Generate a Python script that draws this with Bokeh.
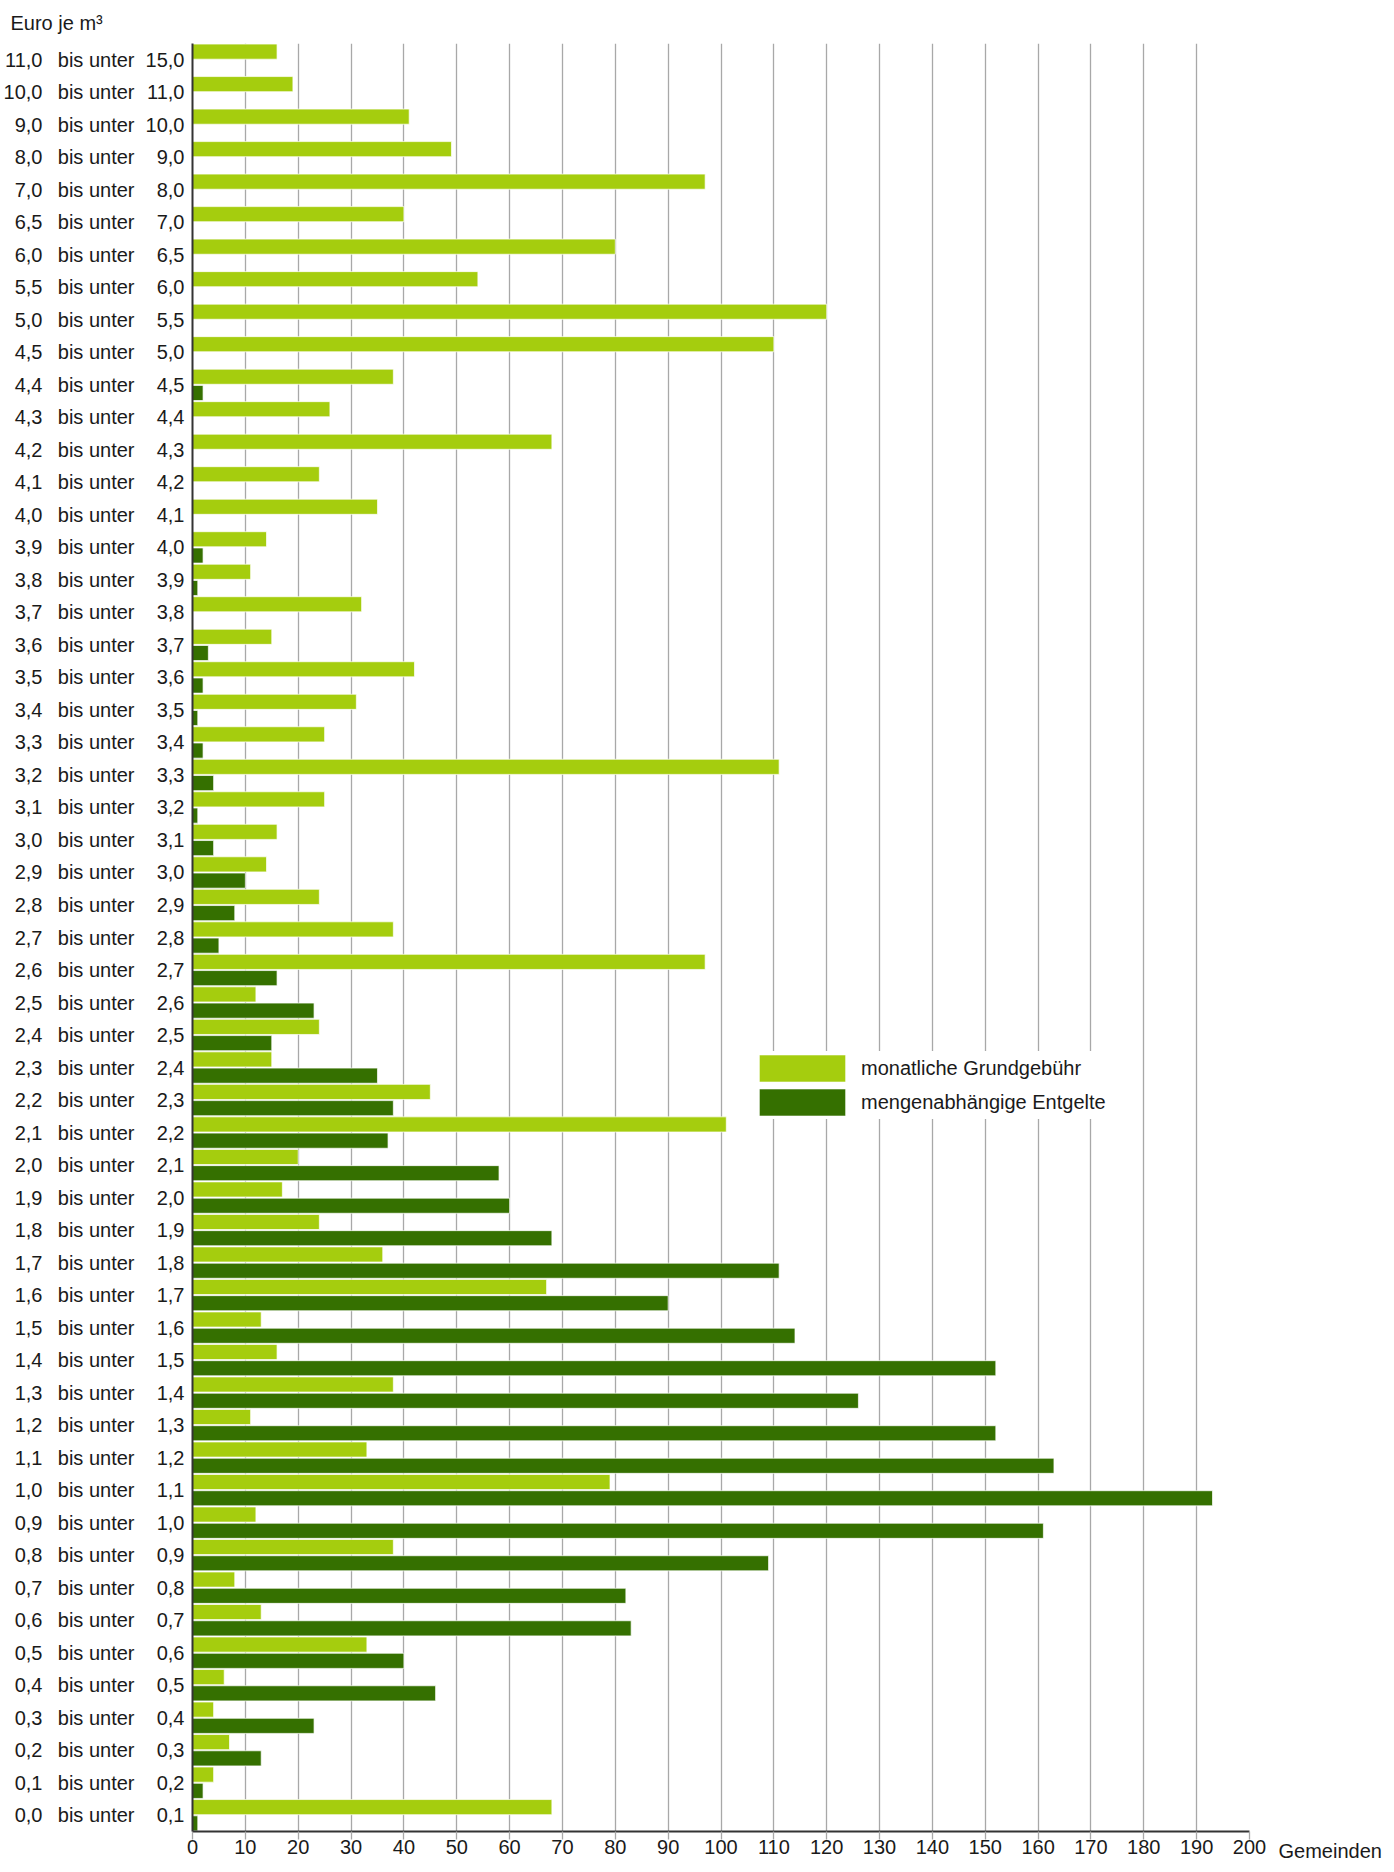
from bokeh.plotting import figure
from bokeh.models import (ColumnDataSource, Range1d, FixedTicker, LinearAxis,
                          Legend, LegendItem)
from bokeh.layouts import row as bk_row
from bokeh.embed import file_html
from bokeh.resources import INLINE

# ---- data (top to bottom, as in the chart) ----
lower = ["11,0", "10,0", "9,0", "8,0", "7,0", "6,5", "6,0", "5,5", "5,0", "4,5",
         "4,4", "4,3", "4,2", "4,1", "4,0", "3,9", "3,8", "3,7", "3,6", "3,5",
         "3,4", "3,3", "3,2", "3,1", "3,0", "2,9", "2,8", "2,7", "2,6", "2,5",
         "2,4", "2,3", "2,2", "2,1", "2,0", "1,9", "1,8", "1,7", "1,6", "1,5",
         "1,4", "1,3", "1,2", "1,1", "1,0", "0,9", "0,8", "0,7", "0,6", "0,5",
         "0,4", "0,3", "0,2", "0,1", "0,0"]
upper = ["15,0", "11,0", "10,0", "9,0", "8,0", "7,0", "6,5", "6,0", "5,5", "5,0",
         "4,5", "4,4", "4,3", "4,2", "4,1", "4,0", "3,9", "3,8", "3,7", "3,6",
         "3,5", "3,4", "3,3", "3,2", "3,1", "3,0", "2,9", "2,8", "2,7", "2,6",
         "2,5", "2,4", "2,3", "2,2", "2,1", "2,0", "1,9", "1,8", "1,7", "1,6",
         "1,5", "1,4", "1,3", "1,2", "1,1", "1,0", "0,9", "0,8", "0,7", "0,6",
         "0,5", "0,4", "0,3", "0,2", "0,1"]
grundgebuehr = [16, 19, 41, 49, 97, 40, 80, 54, 120, 110,
                38, 26, 68, 24, 35, 14, 11, 32, 15, 42,
                31, 25, 111, 25, 16, 14, 24, 38, 97, 12,
                24, 15, 45, 101, 20, 17, 24, 36, 67, 13,
                16, 38, 11, 33, 79, 12, 38, 8, 13, 33,
                6, 4, 7, 4, 68]
mengenentgelt = [0, 0, 0, 0, 0, 0, 0, 0, 0, 0,
                 2, 0, 0, 0, 0, 2, 1, 0, 3, 2,
                 1, 2, 4, 1, 4, 10, 8, 5, 16, 23,
                 15, 35, 38, 37, 58, 60, 68, 111, 90, 114,
                 152, 126, 152, 163, 193, 161, 109, 82, 83, 40,
                 46, 23, 13, 2, 1]
x_ticks = list(range(0, 201, 10))
series_names = ["monatliche Grundgebühr", "mengenabhängige Entgelte"]
y_title = "Euro je m³"
x_title = "Gemeinden"

LIGHT = "#A5CD0E"
DARK = "#357000"
GRID = "#a8a8a8"
AXIS = "#333333"
TXT = "#1a1a1a"
FONT = "Liberation Sans"
FS = "20px"

FRAME_W, FRAME_H = 1057, 1788
BORDER_TOP, BORDER_BOTTOM = 43, 31

n = len(lower)
rows = [n - 1 - i for i in range(n)]  # 0 = bottom row
centers = [r + 0.5 for r in rows]
src = ColumnDataSource(dict(
    y_light=[r + 0.75 for r in rows],
    y_dark=[r + 0.25 for r in rows],
    light=grundgebuehr,
    dark=mengenentgelt,
))

p = figure(frame_width=FRAME_W, frame_height=FRAME_H, output_backend="svg",
           toolbar_location=None, x_range=Range1d(0, 200), y_range=Range1d(0, n),
           min_border_left=184, min_border_right=25, min_border_top=BORDER_TOP,
           min_border_bottom=BORDER_BOTTOM, title=y_title)
p.outline_line_color = None
p.title.align = "left"
p.title.offset = -182
p.title.standoff = 19
p.title.text_font = FONT
p.title.text_font_size = FS
p.title.text_font_style = "normal"
p.title.text_color = TXT

r_light = p.hbar(y="y_light", left=0, right="light", height=0.465, source=src,
                 fill_color=LIGHT, line_color="white", line_width=1, line_alpha=0.7)
r_dark = p.hbar(y="y_dark", left=0, right="dark", height=0.465, source=src,
                fill_color=DARK, line_color="white", line_width=1, line_alpha=0.7)

# grid
p.ygrid.grid_line_color = None
p.xgrid.grid_line_color = GRID
p.xgrid.grid_line_width = 1.3
p.xgrid.ticker = FixedTicker(ticks=x_ticks)


def style_x_axis(ax):
    ax.axis_line_width = 2
    ax.major_tick_line_width = 1.3
    ax.major_tick_out = 8
    ax.major_tick_in = 0
    ax.minor_tick_line_color = None
    ax.minor_tick_out = 0
    ax.major_label_standoff = 0
    ax.major_label_text_font = FONT
    ax.major_label_text_font_size = FS
    ax.major_label_text_color = TXT


xa = p.xaxis[0]
style_x_axis(xa)
xa.ticker = FixedTicker(ticks=x_ticks)
xa.axis_line_color = AXIS
xa.major_tick_line_color = GRID


def style_label_axis(ax, labels, standoff, line):
    ax.ticker = FixedTicker(ticks=centers)
    ax.major_label_overrides = {c: t for c, t in zip(centers, labels)}
    ax.axis_line_color = AXIS if line else None
    ax.axis_line_width = 2
    ax.major_tick_line_color = None
    ax.minor_tick_line_color = None
    ax.major_tick_out = 0
    ax.major_tick_in = 0
    ax.minor_tick_out = 0
    ax.minor_tick_in = 0
    ax.major_label_standoff = standoff
    ax.major_label_text_font = FONT
    ax.major_label_text_font_size = FS
    ax.major_label_text_color = TXT


# y axes: upper bound (next to the bars), "bis unter", lower bound (outermost)
style_label_axis(p.yaxis[0], upper, 8, True)
ax_bis = LinearAxis()
style_label_axis(ax_bis, ["bis unter"] * n, 8, False)
p.add_layout(ax_bis, "left")
ax_low = LinearAxis()
style_label_axis(ax_low, lower, 12, False)
p.add_layout(ax_low, "left")

legend = Legend(items=[LegendItem(label=series_names[0], renderers=[r_light]),
                       LegendItem(label=series_names[1], renderers=[r_dark])],
                location=(556, 712), orientation="vertical",
                glyph_width=108, glyph_height=34, label_standoff=5,
                padding=22, spacing=0, margin=0,
                label_text_font=FONT, label_text_font_size=FS,
                label_text_color=TXT, label_height=27,
                background_fill_color="white", background_fill_alpha=1.0,
                border_line_color=None)
p.add_layout(legend, "center")

# narrow companion panel: its own bottom axis carries the unit text "Gemeinden"
q = figure(frame_width=112, frame_height=FRAME_H, output_backend="svg",
           toolbar_location=None, x_range=Range1d(0, 112), y_range=Range1d(0, 1),
           min_border_left=0, min_border_right=0, min_border_top=BORDER_TOP,
           min_border_bottom=BORDER_BOTTOM, y_axis_type=None)
q.outline_line_color = None
q.grid.grid_line_color = None
qa = q.xaxis[0]
style_x_axis(qa)
qa.ticker = FixedTicker(ticks=[55.7])
qa.major_label_overrides = {55.7: x_title}
qa.axis_line_color = None
qa.major_tick_line_color = None

layout = bk_row(p, q, spacing=0)
open("out.html", "w").write(file_html(layout, INLINE))
